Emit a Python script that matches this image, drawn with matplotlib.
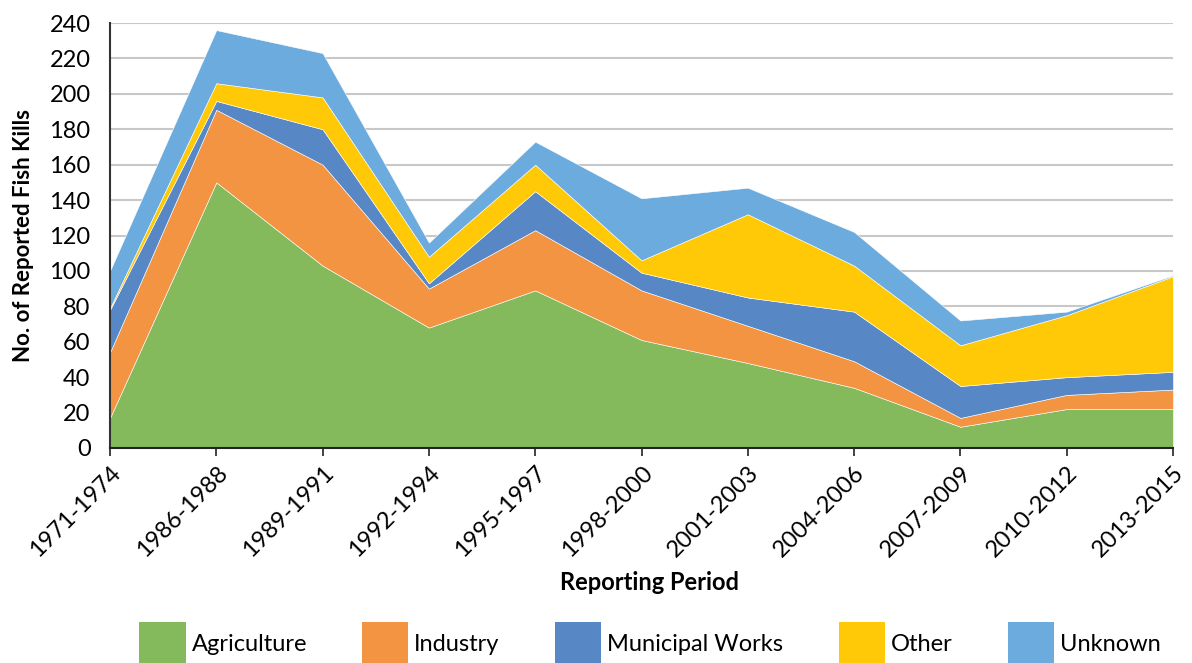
import numpy as np
import matplotlib.pyplot as plt
from matplotlib.patches import Patch

plt.rcParams['font.family'] = ['Lato', 'DejaVu Sans']

# Dados (empilhados)
periodos = ['1971-1974', '1986-1988', '1989-1991', '1992-1994', '1995-1997',
            '1998-2000', '2001-2003', '2004-2006', '2007-2009', '2010-2012',
            '2013-2015']
agricultura = [17, 150, 103, 68, 89, 61, 48, 34, 12, 22, 22]
industria = [37, 41, 57, 22, 34, 28, 21, 15, 5, 8, 11]
municipal = [24, 5, 20, 3, 22, 10, 16, 28, 18, 10, 10]
outros = [1, 10, 18, 15, 15, 7, 47, 26, 23, 35, 54]
desconhecido = [21, 30, 25, 8, 13, 35, 15, 19, 14, 2, 0.5]

nomes = ['Agriculture', 'Industry', 'Municipal Works', 'Other', 'Unknown']
cores = ['#84BA5B', '#F29441', '#5788C5', '#FFC907', '#6CABDD']

fig = plt.figure(figsize=(11.92, 6.63), dpi=100)
ax = fig.add_axes([110 / 1192, 1 - 448 / 663, (1173 - 110) / 1192, (448 - 23) / 663])

x = np.arange(len(periodos))
ax.stackplot(x, agricultura, industria, municipal, outros, desconhecido,
             colors=cores, linewidth=0.4, edgecolor='white', zorder=2)

ax.set_xlim(0, len(periodos) - 1)
ax.set_ylim(0, 240)
ax.set_yticks(range(0, 241, 20))
ax.yaxis.grid(True, color='#c8c8c8', linewidth=1.5, zorder=0)
ax.set_axisbelow(True)

ax.set_xticks(x)
ax.set_xticklabels(periodos, rotation=45, ha='right', rotation_mode='anchor')
ax.tick_params(axis='x', length=6, width=1.2, labelsize=17, pad=4, color='#222222')
ax.tick_params(axis='y', length=0, labelsize=17, pad=14)

for lado in ['top', 'right']:
    ax.spines[lado].set_visible(False)
ax.spines['left'].set_color('#333333')
ax.spines['left'].set_linewidth(1.5)
ax.spines['bottom'].set_color('#222222')
ax.spines['bottom'].set_linewidth(1.5)
ax.spines['bottom'].set_zorder(5)

ax.set_ylabel('No. of Reported Fish Kills', fontsize=16, fontweight='bold', labelpad=11)
fig.text(650 / 1192, 1 - 583 / 663, 'Reporting Period',
         fontsize=17, fontweight='bold', ha='center', va='center')

handles = [Patch(facecolor=c, edgecolor='none') for c in cores]
fig.legend(handles, nomes, loc='center', bbox_to_anchor=(650 / 1192, 1 - 644 / 663),
           ncol=5, frameon=False, fontsize=17, handlelength=1.95, handleheight=2.45,
           handletextpad=0.25, columnspacing=2.35, borderpad=0)

fig.savefig('out.png', dpi=100)
